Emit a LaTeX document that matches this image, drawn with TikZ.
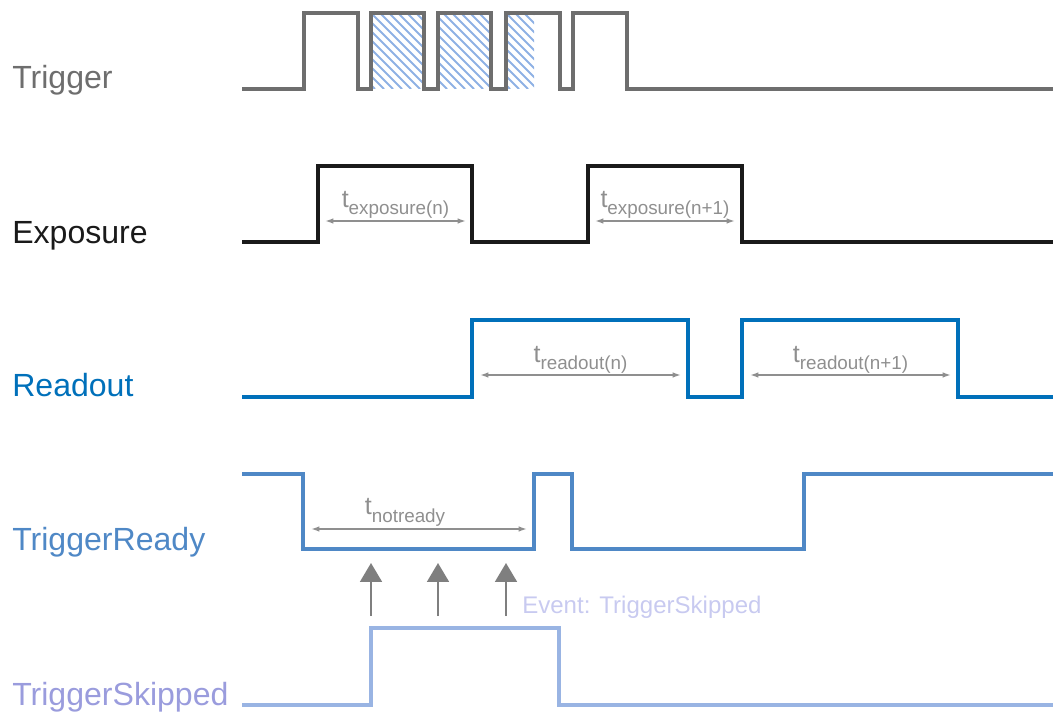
\documentclass[tikz,border=0pt]{standalone}
\usepackage{fontspec}
\setmainfont{Liberation Sans}
\usepackage{tikz}
\usetikzlibrary{arrows.meta,positioning}
\usepackage{xcolor}

\definecolor{trigcol}{HTML}{6E6E6E}
\definecolor{expcol}{HTML}{1A1A1A}
\definecolor{rdcol}{HTML}{0070BA}
\definecolor{trdycol}{HTML}{4F88C6}
\definecolor{skipcol}{HTML}{99B4E3}
\definecolor{skiplbl}{HTML}{9A9CDD}
\definecolor{evtcol}{HTML}{C8CAF0}
\definecolor{dimcol}{HTML}{8F8F8F}
\definecolor{evarcol}{HTML}{7F7F7F}
\definecolor{hatchcol}{HTML}{8EB1E4}

\newcommand{\tsub}[1]{{\fontsize{17.8pt}{18pt}\selectfont\raisebox{5pt}{t}}{\fontsize{13.4pt}{14pt}\selectfont #1}}

\begin{document}
\begin{tikzpicture}[
  x=0.025cm,y=-0.025cm,
  sig/.style={line width=2.4pt,line join=miter},
  lbl/.style={anchor=base west,inner sep=0pt,font=\fontsize{22.8pt}{24pt}\selectfont},
  dim/.style={{Latex[length=6pt,width=4pt]}-{Latex[length=6pt,width=4pt]},draw=dimcol,line width=1.1pt},
  tlbl/.style={anchor=base,inner sep=0pt,text=dimcol},
  evarr/.style={-{Triangle[length=13.5pt,width=15.5pt]},draw=evarcol,fill=evarcol,line width=1.8pt},
  hatch/.style={draw=hatchcol,line width=1.3pt}
]
  \useasboundingbox (0,0) rectangle (1059,714);

  % skipped trigger pulses
  \begin{scope}
    \clip (371,13) rectangle (424,89) (438,13) rectangle (491,89) (506,13) rectangle (534,89);
    \foreach \k in {290,299,...,540}
      \draw[hatch] (\k,13) -- ++(76,76);
  \end{scope}

  % signals
  \draw[sig,trigcol,line width=2.6pt] (242,89) -| (304,13) -| (358,89) -| (371,13) -| (424,89) -| (438,13)
    -| (491,89) -| (506,13) -| (560,89) -| (573,13) -| (627,89) -- (1053,89);
  \draw[sig,expcol] (242,242) -| (318,166) -| (472,242) -| (588,166) -| (742,242) -- (1053,242);
  \draw[sig,rdcol] (242,397) -| (472,320) -| (688,397) -| (742,320) -| (958,397) -- (1053,397);
  \draw[sig,trdycol] (242,474) -| (303,549) -| (534,474) -| (572,549) -| (804,474) -- (1053,474);
  \draw[sig,skipcol] (242,705) -| (371,628) -| (559,705) -- (1053,705);

  % signal names
  \node[lbl,text=trigcol] (trig) at (12,89) {Trigger};
  \node[lbl,text=expcol] (expo) at (12,244) {Exposure};
  \node[lbl,text=rdcol] (rdout) at (12,397) {Readout};
  \node[lbl,text=trdycol] (trdy) at (12,550) {TriggerReady};
  \node[lbl,text=skiplbl] (tskip) at (12,705) {TriggerSkipped};

  % durations
  \draw[dim] (325,221) -- (466,221);
  \node[tlbl] (texpa) at (395.5,215) {\tsub{exposure(n)}};
  \draw[dim] (595,221) -- (735,221);
  \node[tlbl] (texpb) at (665,215) {\tsub{exposure(n+1)}};
  \draw[dim] (480,375) -- (681,375);
  \node[tlbl] (treada) at (580.5,370) {\tsub{readout(n)}};
  \draw[dim] (750,375) -- (951,375);
  \node[tlbl] (treadb) at (850.5,370) {\tsub{readout(n+1)}};
  \draw[dim] (311,529) -- (527,529);
  \node[tlbl] (tnrdy) at (405,522) {\tsub{notready}};

  % skipped trigger events
  \foreach \x [count=\i] in {371,438,506} {
    \coordinate (sk\i) at (\x,616);
    \draw[evarr] (sk\i) -- ++(0,-53);
  }
  \node[anchor=base west,inner sep=0pt,text=evtcol,font=\fontsize{17.1pt}{18pt}\selectfont]
    (evt) at (522,613) {Event: TriggerSkipped};
\end{tikzpicture}
\end{document}
